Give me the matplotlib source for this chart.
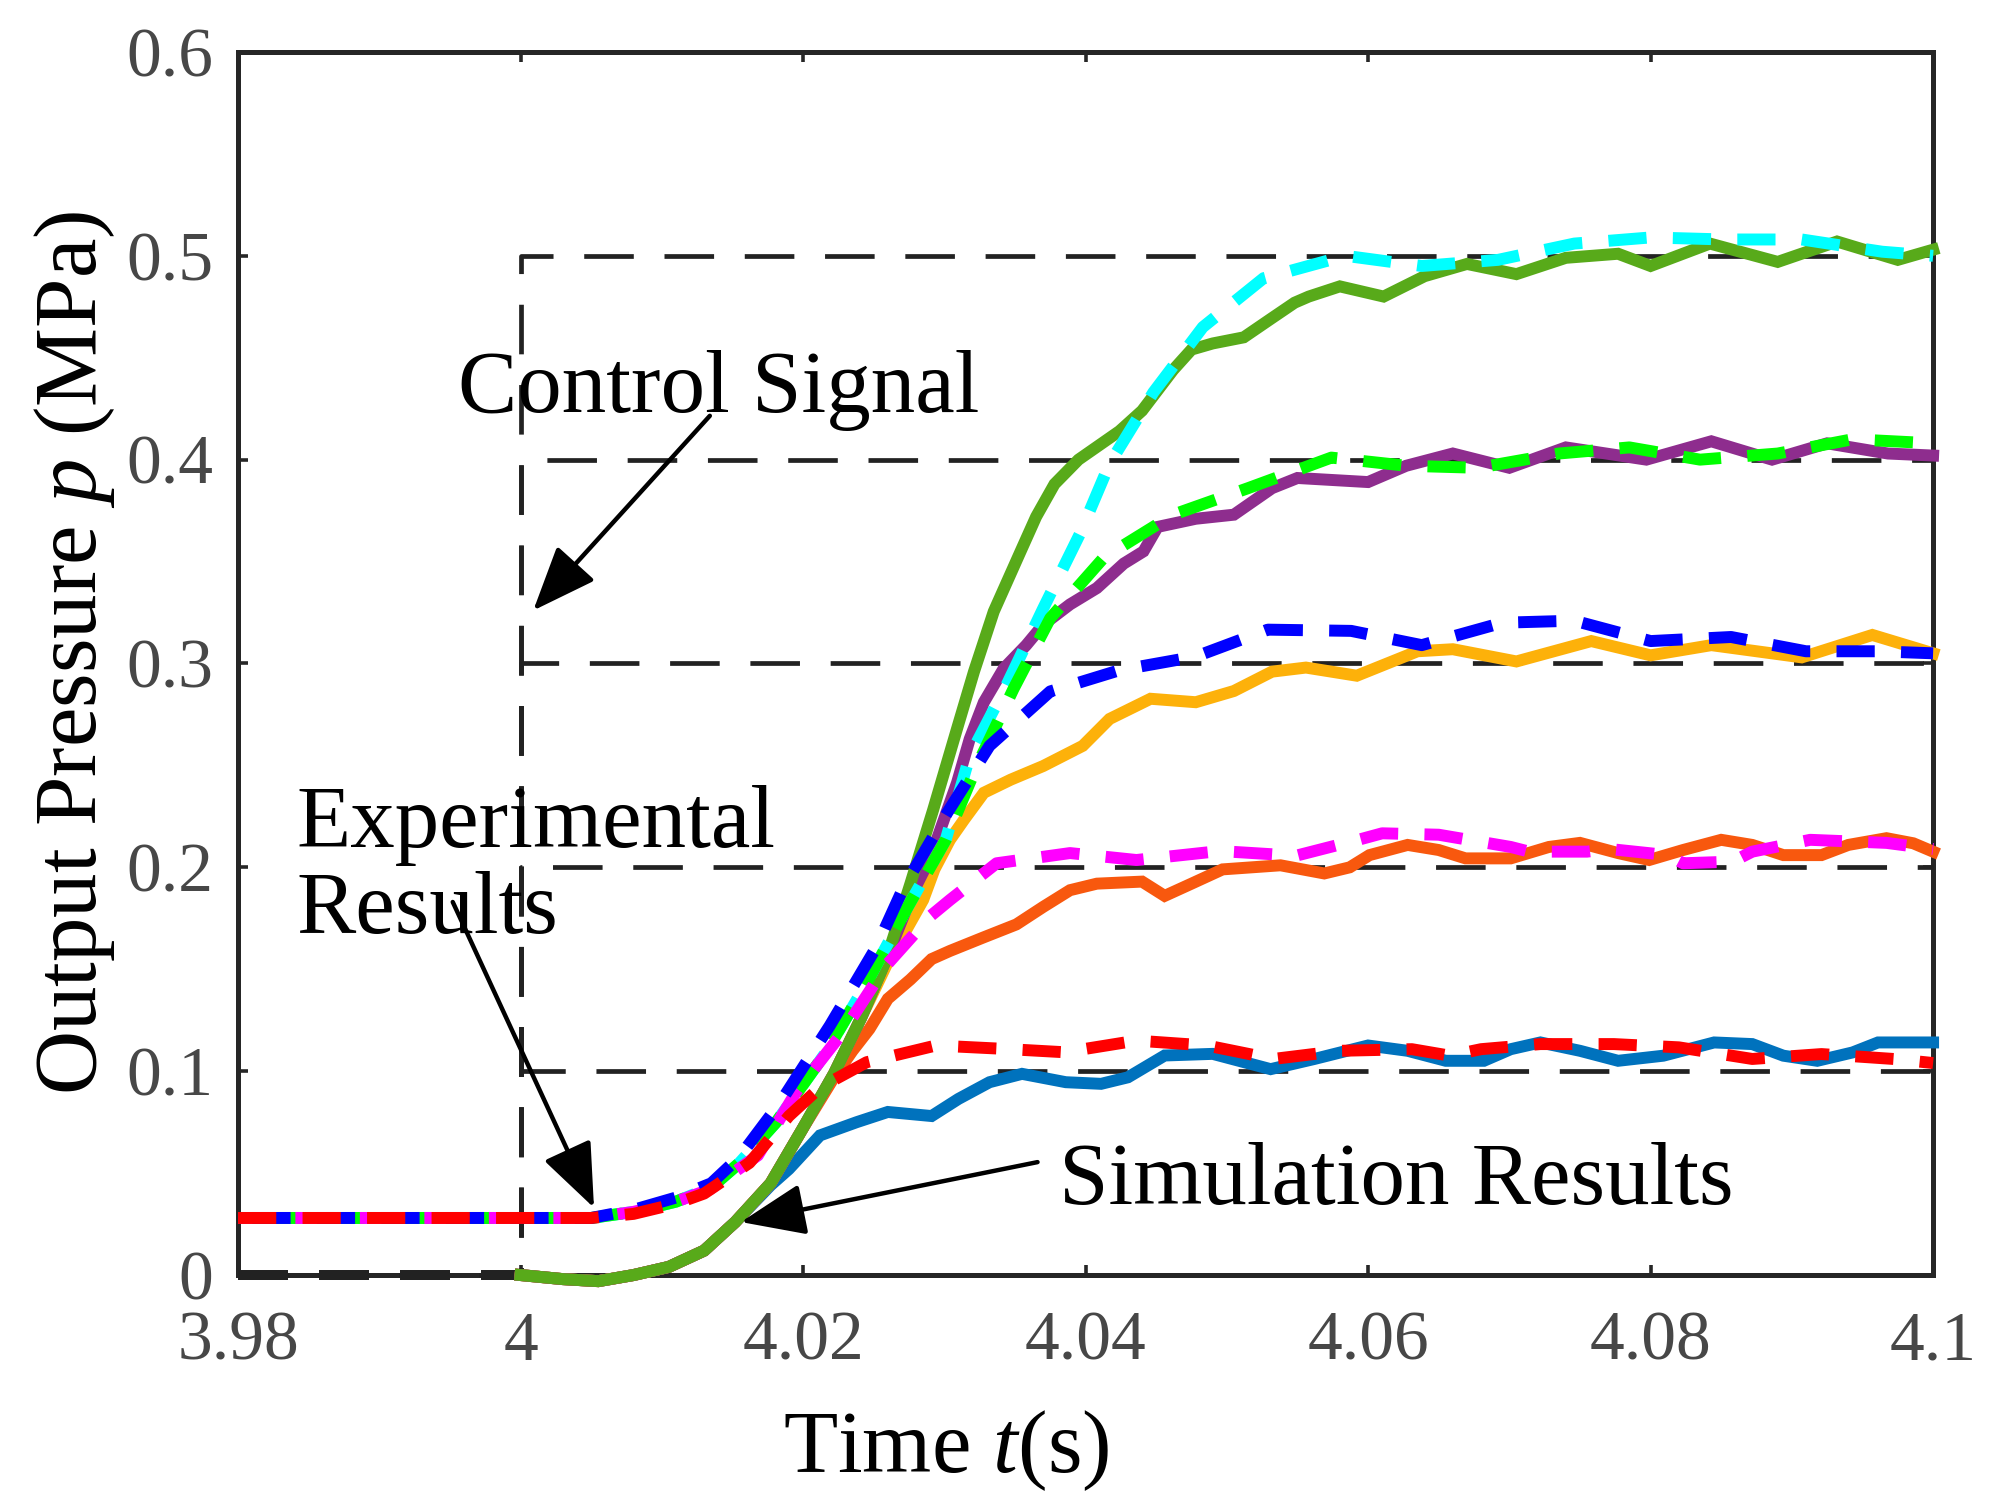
import matplotlib
matplotlib.use('Agg')
import matplotlib.pyplot as plt

plt.rcParams['font.family'] = ['Liberation Serif', 'DejaVu Serif']
plt.rcParams['mathtext.fontset'] = 'custom'
plt.rcParams['mathtext.rm'] = 'Liberation Serif'
plt.rcParams['mathtext.it'] = 'Liberation Serif:italic'

# control signal levels (step at t = 4 s)
levels = [0.1, 0.2, 0.3, 0.4, 0.5]
t_step = [3.98, 4.0, 4.0, 4.1]

# simulation results (solid)
t_sim5 = [4.000, 4.003, 4.0055, 4.008, 4.0105, 4.013, 4.0152, 4.0177, 4.0199, 4.0222, 4.0241, 4.0259,
          4.0276, 4.0292, 4.0309, 4.0321, 4.0335, 4.0354, 4.0365, 4.0378, 4.0395, 4.0424, 4.0440,
          4.0462, 4.0475, 4.0490, 4.0512, 4.0531, 4.0548, 4.0558, 4.0580, 4.0611, 4.0640, 4.0670,
          4.0705, 4.0740, 4.0777, 4.0800, 4.0842, 4.0890, 4.0932, 4.0975, 4.1000]
p_sim5 = [0.000, -0.002, -0.003, 0.000, 0.004, 0.012, 0.026, 0.045, 0.071, 0.099, 0.126, 0.155,
          0.192, 0.228, 0.268, 0.296, 0.3255, 0.355, 0.372, 0.388, 0.400, 0.414, 0.424,
          0.444, 0.454, 0.457, 0.460, 0.469, 0.477, 0.480, 0.485, 0.480, 0.490, 0.496,
          0.491, 0.499, 0.501, 0.495, 0.506, 0.497, 0.507, 0.498, 0.503]

t_sim4 = [4.000, 4.003, 4.0055, 4.008, 4.0105, 4.013, 4.0152, 4.0177, 4.0199, 4.0222, 4.0241, 4.0259,
          4.0278, 4.0290, 4.0309, 4.0318, 4.0328, 4.0342, 4.0358, 4.0370, 4.0389, 4.0408, 4.0427,
          4.0441, 4.0451, 4.0478, 4.0505, 4.0532, 4.0550, 4.0600, 4.0627, 4.0660, 4.0700, 4.0740,
          4.0797, 4.0843, 4.0886, 4.0925, 4.0968, 4.1000]
p_sim4 = [0.000, -0.002, -0.003, 0.000, 0.004, 0.012, 0.026, 0.045, 0.071, 0.099, 0.126, 0.155,
          0.188, 0.2045, 0.2415, 0.263, 0.281, 0.2975, 0.309, 0.319, 0.329, 0.337, 0.349,
          0.355, 0.367, 0.371, 0.373, 0.386, 0.391, 0.389, 0.397, 0.403, 0.396, 0.406,
          0.400, 0.409, 0.400, 0.408, 0.403, 0.402]

t_sim3 = [4.000, 4.003, 4.0055, 4.008, 4.0105, 4.013, 4.0152, 4.0177, 4.0199, 4.0222, 4.0241, 4.0259,
          4.0272, 4.0285, 4.0293, 4.0304, 4.0314, 4.0328, 4.0347, 4.0370, 4.0398, 4.0417, 4.0446,
          4.0478, 4.0505, 4.0532, 4.0556, 4.0592, 4.0635, 4.0660, 4.0705, 4.0758, 4.0800, 4.0843,
          4.0907, 4.0957, 4.1000]
p_sim3 = [0.000, -0.002, -0.003, 0.000, 0.004, 0.012, 0.026, 0.045, 0.071, 0.099, 0.126, 0.152,
          0.168, 0.184, 0.199, 0.2135, 0.2234, 0.2366, 0.243, 0.2497, 0.2596, 0.2728, 0.2827,
          0.281, 0.2865, 0.296, 0.298, 0.294, 0.306, 0.307, 0.301, 0.311, 0.304, 0.309,
          0.303, 0.314, 0.305]

t_sim2 = [4.000, 4.003, 4.0055, 4.008, 4.0105, 4.013, 4.0152, 4.0177, 4.0199, 4.0222, 4.0235,
          4.0247, 4.0260, 4.0276, 4.0291, 4.0304, 4.0328, 4.0351, 4.0370, 4.0389, 4.0408, 4.0440,
          4.0456, 4.0475, 4.0497, 4.0538, 4.0569, 4.0587, 4.0601, 4.0628, 4.0650, 4.0669, 4.0701,
          4.0728, 4.0750, 4.0777, 4.0799, 4.0823, 4.0850, 4.0872, 4.0894, 4.0921, 4.0940, 4.0967,
          4.0986, 4.1000]
p_sim2 = [0.000, -0.002, -0.003, 0.000, 0.004, 0.012, 0.026, 0.045, 0.071, 0.097, 0.110,
          0.1207, 0.1355, 0.145, 0.155, 0.159, 0.1657, 0.172, 0.1806, 0.1888, 0.192, 0.193,
          0.186, 0.192, 0.199, 0.201, 0.197, 0.200, 0.206, 0.211, 0.2085, 0.2044, 0.2044,
          0.210, 0.212, 0.207, 0.2036, 0.2085, 0.2135, 0.211, 0.206, 0.206, 0.211, 0.2143,
          0.2118, 0.2077]

t_sim1 = [4.000, 4.003, 4.0055, 4.008, 4.0105, 4.013, 4.0152, 4.0177, 4.0190, 4.0212, 4.0238,
          4.0260, 4.0291, 4.0310, 4.0332, 4.0355, 4.0386, 4.0411, 4.0430, 4.0456, 4.0490, 4.0531,
          4.0562, 4.0600, 4.0628, 4.0655, 4.0682, 4.0701, 4.0722, 4.0750, 4.0777, 4.0809, 4.0845,
          4.0872, 4.0894, 4.0918, 4.0943, 4.0961, 4.1000]
p_sim1 = [0.000, -0.002, -0.003, 0.000, 0.004, 0.012, 0.026, 0.044, 0.052, 0.0685, 0.075,
          0.080, 0.078, 0.0864, 0.0946, 0.0987, 0.0946, 0.0938, 0.097, 0.1077, 0.1085, 0.101,
          0.106, 0.1126, 0.110, 0.1051, 0.1051, 0.1108, 0.1141, 0.110, 0.1051, 0.1076, 0.1141,
          0.1133, 0.1076, 0.1051, 0.1092, 0.1141, 0.1141]

# experimental results (dashed)
t_exp5 = [3.98, 4.005, 4.008, 4.011, 4.0135, 4.0155, 4.0181, 4.0216, 4.0244, 4.0272, 4.0301, 4.0318,
          4.0344, 4.0370, 4.0396, 4.0417, 4.0448, 4.0483, 4.0526, 4.0584, 4.0638, 4.0692, 4.0746,
          4.0800, 4.0853, 4.0907, 4.0964, 4.1000]
p_exp5 = [0.028, 0.028, 0.031, 0.036, 0.043, 0.055, 0.075, 0.109, 0.142, 0.178, 0.2135, 0.2547,
          0.2893, 0.327, 0.3636, 0.398, 0.433, 0.465, 0.489, 0.500, 0.495, 0.498, 0.506,
          0.509, 0.508, 0.508, 0.502, 0.500]

t_exp4 = [3.98, 4.005, 4.008, 4.011, 4.0135, 4.0155, 4.0181, 4.0216, 4.0244, 4.0272, 4.0301, 4.0323,
          4.0349, 4.0375, 4.0413, 4.0462, 4.0515, 4.0574, 4.0627, 4.0678, 4.0735, 4.0785, 4.0835,
          4.0890, 4.0943, 4.1000]
p_exp4 = [0.028, 0.028, 0.031, 0.036, 0.043, 0.055, 0.075, 0.109, 0.142, 0.178, 0.2135, 0.2497,
          0.2876, 0.3222, 0.352, 0.373, 0.386, 0.401, 0.397, 0.396, 0.403, 0.406, 0.400,
          0.403, 0.410, 0.408]

t_exp3 = [3.98, 4.005, 4.008, 4.011, 4.0135, 4.0155, 4.0184, 4.0219, 4.0252, 4.0271, 4.0302, 4.0332,
          4.0375, 4.0424, 4.0478, 4.0529, 4.0588, 4.0638, 4.0695, 4.0746, 4.0800, 4.0857, 4.0910,
          4.0960, 4.1000]
p_exp3 = [0.028, 0.028, 0.032, 0.038, 0.045, 0.058, 0.0848, 0.1224, 0.161, 0.190, 0.2267, 0.2596,
          0.2863, 0.2967, 0.3034, 0.3166, 0.316, 0.309, 0.320, 0.321, 0.311, 0.313, 0.306,
          0.306, 0.305]

t_exp2 = [3.98, 4.005, 4.008, 4.011, 4.0134, 4.0168, 4.0195, 4.0228, 4.0259, 4.0290, 4.0304, 4.0337,
          4.0389, 4.0436, 4.0495, 4.0549, 4.0593, 4.0610, 4.0650, 4.0701, 4.0714, 4.0755, 4.0771,
          4.0812, 4.0823, 4.0858, 4.0872, 4.0913, 4.0967, 4.1000]
p_exp2 = [0.028, 0.028, 0.031, 0.036, 0.042, 0.0587, 0.0897, 0.119, 0.152, 0.176, 0.184, 0.202,
          0.207, 0.2036, 0.208, 0.2057, 0.2135, 0.2167, 0.216, 0.210, 0.2077, 0.2077, 0.209,
          0.206, 0.202, 0.2028, 0.2077, 0.2135, 0.212, 0.209]

t_exp1 = [3.98, 4.005, 4.008, 4.011, 4.013, 4.0162, 4.019, 4.0212, 4.0245, 4.0294, 4.0341, 4.0385,
          4.0436, 4.0486, 4.0533, 4.0580, 4.0631, 4.0658, 4.0680, 4.0722, 4.0774, 4.0820, 4.0872,
          4.0921, 4.0972, 4.1000]
p_exp1 = [0.028, 0.028, 0.030, 0.035, 0.040, 0.055, 0.078, 0.092, 0.1044, 0.1126, 0.111, 0.1093,
          0.115, 0.1126, 0.106, 0.110, 0.1108, 0.1076, 0.1108, 0.1133, 0.1133, 0.1117, 0.106,
          0.1084, 0.106, 0.104]

sim_colors = ['#0072BD', '#F8580E', '#FDB10A', '#8E2D8E', '#58AA1A']
exp_colors = ['#FF0000', '#FF00FF', '#0000FF', '#00FF00', '#00FFFF']

fig = plt.figure(figsize=(1997 / 200, 1510 / 200), dpi=200)
ax = fig.add_axes([0.1192, 0.1556, 0.8488, 0.8100])

for L in levels:
    ax.plot(t_step, [0, 0, L, L], color='#222222', lw=1.7, linestyle=(0, (10.5, 6.5)),
            zorder=3, clip_on=False)
# zero part of the signal sits on the axis and shows thicker
ax.plot(t_step[:2], [0, 0], color='#222222', lw=3.6, linestyle=(0, (5.0, 3.1)),
        zorder=3, clip_on=False)

sims = [(t_sim1, p_sim1), (t_sim2, p_sim2), (t_sim3, p_sim3), (t_sim4, p_sim4), (t_sim5, p_sim5)]
for (t, p), c in zip(sims, sim_colors):
    ax.plot(t, p, color=c, lw=4.3, zorder=4, clip_on=False, solid_joinstyle='miter')

exps = [(t_exp5, p_exp5, exp_colors[4], 2.5), (t_exp4, p_exp4, exp_colors[3], 3.4),
        (t_exp2, p_exp2, exp_colors[1], 0.6), (t_exp3, p_exp3, exp_colors[2], 4.2),
        (t_exp1, p_exp1, exp_colors[0], 0.0)]
for t, p, c, off in exps:
    ax.plot(t, p, color=c, lw=4.3, linestyle=(off, (3.2, 2.2)), zorder=5, clip_on=False)

ax.set_xlim(3.98, 4.1)
ax.set_ylim(0, 0.6)
ax.set_xticks([3.98, 4.0, 4.02, 4.04, 4.06, 4.08, 4.1])
ax.set_xticklabels(['3.98', '4', '4.02', '4.04', '4.06', '4.08', '4.1'])
ax.set_yticks([0, 0.1, 0.2, 0.3, 0.4, 0.5, 0.6])
ax.set_yticklabels(['0', '0.1', '0.2', '0.3', '0.4', '0.5', '0.6'])
ax.tick_params(direction='in', top=True, right=True, length=3.6, width=1.3,
               color='#262626', labelsize=25, labelcolor='#474747')
ax.tick_params(axis='x', pad=13)
ax.tick_params(axis='y', pad=9)
for s in ax.spines.values():
    s.set_linewidth(1.8)
    s.set_color('#262626')

ax.set_xlabel('Time $t$(s)', fontsize=32, va='baseline')
ax.xaxis.set_label_coords(0.4177, (0.025 - 0.1556) / 0.81)
ax.set_ylabel('Output Pressure $p$ (MPa)', fontsize=32, va='baseline')
ax.yaxis.set_label_coords(-0.0839, 0.5086)

arrow = dict(arrowstyle='-|>,head_length=1.0,head_width=0.4', mutation_scale=20,
             lw=1.6, color='k', shrinkA=0, shrinkB=0)
ax.text(3.99558, 0.4235, 'Control Signal', fontsize=32, va='baseline', zorder=6)
ax.annotate('', xy=(4.0009, 0.326), xytext=(4.0134, 0.4215), arrowprops=arrow, zorder=6)
ax.text(3.9841, 0.210, 'Experimental', fontsize=32, va='baseline', zorder=6)
ax.text(3.9841, 0.168, 'Results', fontsize=32, va='baseline', zorder=6)
ax.annotate('', xy=(4.0052, 0.033), xytext=(3.9952, 0.183), arrowprops=arrow, zorder=6)
ax.text(4.0381, 0.035, 'Simulation Results', fontsize=32, va='baseline', zorder=6)
ax.annotate('', xy=(4.0156, 0.026), xytext=(4.0366, 0.0554), arrowprops=arrow, zorder=6)

fig.savefig('out.png', dpi=200)
